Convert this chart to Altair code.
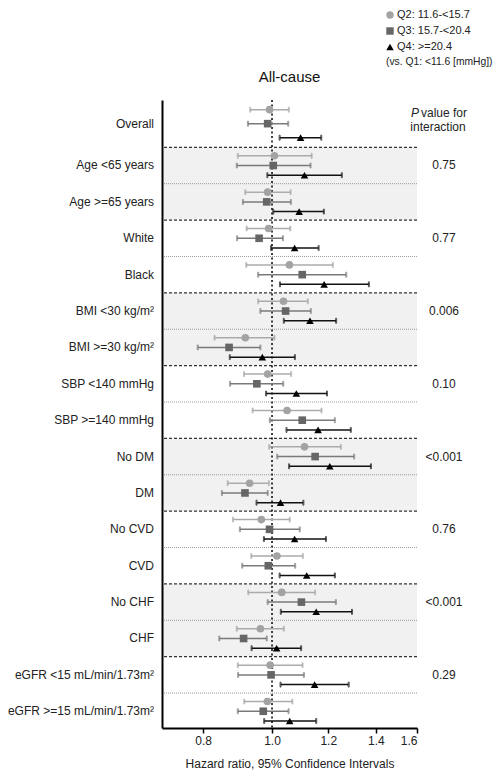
import altair as alt
import pandas as pd

# ---------------- data ----------------
subgroups = ["Overall", "Age <65 years", "Age >=65 years", "White", "Black",
             "BMI <30 kg/m²", "BMI >=30 kg/m²", "SBP <140 mmHg", "SBP >=140 mmHg",
             "No DM", "DM", "No CVD", "CVD", "No CHF", "CHF",
             "eGFR <15 mL/min/1.73m²", "eGFR >=15 mL/min/1.73m²"]

quartiles = ["Q2: 11.6-<15.7", "Q3: 15.7-<20.4", "Q4: >=20.4"]
reference_note = "(vs. Q1: <11.6 [mmHg])"

q2_hr = [0.992, 1.008, 0.986, 0.989, 1.058, 1.038, 0.917, 0.986, 1.050, 1.111, 0.930, 0.966, 1.016, 1.032, 0.963, 0.994, 0.985]
q2_lo = [0.932, 0.895, 0.917, 0.921, 0.920, 0.956, 0.830, 0.913, 0.939, 0.991, 0.866, 0.881, 0.935, 0.926, 0.892, 0.895, 0.914]
q2_hi = [1.056, 1.137, 1.062, 1.061, 1.218, 1.123, 1.008, 1.064, 1.174, 1.250, 0.990, 1.059, 1.105, 1.150, 1.039, 1.104, 1.068]

q3_hr = [0.986, 1.004, 0.983, 0.959, 1.103, 1.045, 0.870, 0.952, 1.103, 1.150, 0.916, 0.992, 0.988, 1.100, 0.912, 0.997, 0.972]
q3_lo = [0.925, 0.892, 0.910, 0.893, 0.956, 0.963, 0.786, 0.873, 0.993, 1.017, 0.850, 0.901, 0.908, 0.986, 0.843, 0.896, 0.895]
q3_hi = [1.054, 1.133, 1.063, 1.036, 1.272, 1.134, 0.963, 1.037, 1.226, 1.305, 0.986, 1.094, 1.078, 1.230, 0.983, 1.109, 1.055]

q4_hr = [1.097, 1.111, 1.092, 1.076, 1.184, 1.131, 0.969, 1.082, 1.161, 1.206, 1.028, 1.076, 1.119, 1.154, 1.015, 1.148, 1.059]
q4_lo = [1.025, 0.985, 1.004, 0.997, 1.026, 1.039, 0.872, 0.981, 1.048, 1.057, 0.951, 0.974, 1.025, 1.029, 0.936, 1.028, 0.975]
q4_hi = [1.173, 1.254, 1.183, 1.163, 1.369, 1.231, 1.077, 1.195, 1.291, 1.378, 1.107, 1.191, 1.226, 1.296, 1.099, 1.282, 1.154]

p_rows = ["Age <65 years", "White", "BMI <30 kg/m²", "SBP <140 mmHg",
          "No DM", "No CVD", "No CHF", "eGFR <15 mL/min/1.73m²"]
p_vals = ["0.75", "0.77", "0.006", "0.10", "<0.001", "0.76", "<0.001", "0.29"]

shaded_groups = [(1, 2), (5, 6), (9, 10), (13, 14)]

x_ticks = [0.8, 1.0, 1.2, 1.4, 1.6]

# ---------------- layout helpers ----------------
FONT = "Liberation Sans"
TXT = "#222"
W, H = 255, 628
row_pos = [-0.15] + list(range(1, len(subgroups)))
pos_of = dict(zip(subgroups, row_pos))

series = [(quartiles[0], q2_hr, q2_lo, q2_hi),
          (quartiles[1], q3_hr, q3_lo, q3_hi),
          (quartiles[2], q4_hr, q4_lo, q4_hi)]
recs = []
for k, (q, hr, lo, hi) in enumerate(series):
    for i, g in enumerate(subgroups):
        step = 0.385 if i == 0 else 0.267
        recs.append({"group": g, "q": q, "hr": hr[i], "lo": lo[i], "hi": hi[i],
                     "y": row_pos[i] + (k - 1) * step})
df = pd.DataFrame(recs)

labels_df = pd.DataFrame({"group": subgroups, "y": row_pos})
p_df = pd.DataFrame({"group": p_rows, "p": p_vals, "y": [pos_of[r] for r in p_rows]})
shade_df = pd.DataFrame({"y": [a - 0.5 for a, b in shaded_groups],
                         "y2": [b + 0.5 for a, b in shaded_groups]})
dash_df = pd.DataFrame({"y": [0.5, 2.5, 4.5, 6.5, 8.5, 10.5, 12.5, 14.5]})
dot_df = pd.DataFrame({"y": [1.5, 3.5, 5.5, 7.5, 9.5, 11.5, 13.5, 15.5]})

xscale = alt.Scale(type="log", domain=[0.7, 1.6], nice=False)
yscale = alt.Scale(domain=[-0.8, 16.46], reverse=True, nice=False, zero=False)

xaxis = alt.Axis(values=x_ticks, format=".1f", title="Hazard ratio, 95% Confidence Intervals",
                 grid=False, domainColor="#000", domainWidth=2, tickColor="#000",
                 tickWidth=1.5, tickSize=5, labelFontSize=12, labelPadding=2,
                 labelColor=TXT, titleFontSize=12, titleFontWeight="normal",
                 titleColor=TXT, titlePadding=12, labelFont=FONT, titleFont=FONT, zindex=2)
yaxis = alt.Axis(labels=False, ticks=False, grid=False, title=None,
                 domainColor="#000", domainWidth=2, zindex=2)

X = lambda f: alt.X(f, type="quantitative", scale=xscale, axis=xaxis)
Y = lambda f: alt.Y(f, type="quantitative", scale=yscale, axis=yaxis)

shade = alt.Chart(shade_df).mark_rect(color="#f1f1f1").encode(
    x=alt.datum(0.7, scale=xscale, axis=xaxis), x2=alt.datum(1.6),
    y=Y("y"), y2="y2")

dash = alt.Chart(dash_df).mark_rule(color="#333", strokeDash=[3, 2], strokeWidth=1.2).encode(y=Y("y"))
dots = alt.Chart(dot_df).mark_rule(color="#999", strokeDash=[1, 1], strokeWidth=1).encode(y=Y("y"))

refline = alt.Chart(pd.DataFrame({"v": [1.0]})).mark_rule(
    color="#111", strokeDash=[2, 2.5], strokeWidth=1.6).encode(x=X("v"))

stroke_scale = alt.Scale(domain=quartiles, range=["#ababab", "#7a7a7a", "#111111"])
fill_scale = alt.Scale(domain=quartiles, range=["#a3a3a3", "#666666", "#000000"])
shape_scale = alt.Scale(domain=quartiles, range=["circle", "square", "triangle-up"])

bars = alt.Chart(df).mark_rule(strokeWidth=1.5).encode(
    x=X("lo"), x2="hi", y=Y("y"),
    stroke=alt.Stroke("q:N", scale=stroke_scale, legend=None))
cap_lo = alt.Chart(df).mark_tick(orient="vertical", size=5, thickness=1).encode(
    x=X("lo"), y=Y("y"), stroke=alt.Stroke("q:N", scale=stroke_scale, legend=None))
cap_hi = alt.Chart(df).mark_tick(orient="vertical", size=5, thickness=1).encode(
    x=X("hi"), y=Y("y"), stroke=alt.Stroke("q:N", scale=stroke_scale, legend=None))

points = alt.Chart(df).mark_point(filled=True, size=58, opacity=1).encode(
    x=X("hr"), y=Y("y"),
    color=alt.Color("q:N", scale=fill_scale, legend=None),
    shape=alt.Shape("q:N", scale=shape_scale, legend=None))

# legend drawn as marks (one row per quartile), sharing the same colour/shape scales
leg_y = [-85, -69, -53]
legend_layers = []
for q, ly in zip(quartiles, leg_y):
    ldf = pd.DataFrame({"q": [q]})
    legend_layers.append(alt.Chart(ldf).mark_point(filled=True, size=55, opacity=1).encode(
        x=alt.value(228), y=alt.value(ly),
        color=alt.Color("q:N", scale=fill_scale, legend=None),
        shape=alt.Shape("q:N", scale=shape_scale, legend=None)))
    legend_layers.append(alt.Chart(ldf).mark_text(align="left", baseline="middle", fontSize=11,
                                                  font=FONT, color=TXT).encode(
        x=alt.value(235), y=alt.value(ly), text="q:N"))
legend_layers.append(alt.Chart(pd.DataFrame({"t": [reference_note]})).mark_text(
    align="left", baseline="middle", fontSize=10.3, font=FONT, color=TXT).encode(
    x=alt.value(224), y=alt.value(-38), text="t:N"))

ylabels = alt.Chart(labels_df).mark_text(align="right", baseline="middle", fontSize=12,
                                         font=FONT, color=TXT).encode(
    x=alt.value(-8), y=Y("y"), text="group:N")

ptext = alt.Chart(p_df).mark_text(align="center", baseline="middle", fontSize=12,
                                  font=FONT, color=TXT).encode(
    x=alt.value(282), y=Y("y"), text="p:N")

hdr = pd.DataFrame({"t": ["x"]})
p_italic = alt.Chart(hdr).mark_text(text="P", align="left", baseline="middle", fontSize=12,
                                    fontStyle="italic", font=FONT, color=TXT).encode(
    x=alt.value(249), y=alt.value(13))
p_rest = alt.Chart(hdr).mark_text(text="value for", align="left", baseline="middle", fontSize=12,
                                  font=FONT, color=TXT).encode(
    x=alt.value(259), y=alt.value(13))
p_int = alt.Chart(hdr).mark_text(text="interaction", align="center", baseline="middle", fontSize=12,
                                 font=FONT, color=TXT).encode(
    x=alt.value(276), y=alt.value(27))
title = alt.Chart(hdr).mark_text(text="All-cause", align="center", baseline="middle", fontSize=15,
                                 font=FONT, color="#111").encode(
    x=alt.value(W / 2), y=alt.value(-23))

chart = alt.layer(shade, dash, dots, refline, bars, cap_lo, cap_hi, points,
                  ylabels, ptext, p_italic, p_rest, p_int, title, *legend_layers).properties(
    width=W, height=H,
    autosize=alt.AutoSizeParams(type="none"),
    padding={"left": 154, "top": 92, "right": 77, "bottom": 42},
).configure_view(stroke=None)

chart.save("out.html", embed_options={"renderer": "svg", "actions": False})
